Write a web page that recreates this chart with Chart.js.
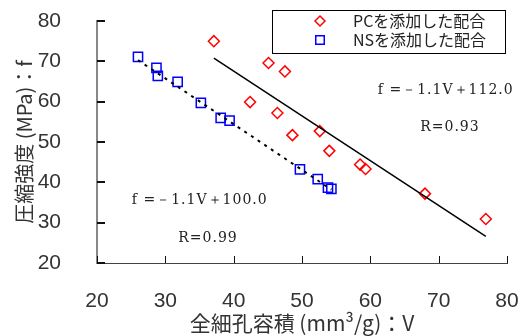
<!DOCTYPE html>
<html>
<head>
<meta charset="utf-8">
<script src="https://cdn.jsdelivr.net/npm/chart.js@4.4.1/dist/chart.umd.min.js"></script>
<style>
  html, body { margin: 0; padding: 0; background: #fff; }
</style>
</head>
<body>
<canvas id="poreChart" width="524" height="336"></canvas>
<script>
// 全細孔容積 V と 圧縮強度 f
var pcV = [37.1, 45.1, 47.5, 42.4, 46.4, 48.6, 52.6, 54.0, 58.5, 59.3, 68.0, 76.9];
var pcF = [75.0, 69.6, 67.5, 59.9, 57.2, 51.7, 52.7, 47.8, 44.4, 43.3, 37.2, 30.9];
var nsV = [26.0, 28.7, 28.9, 31.8, 35.2, 38.1, 39.4, 49.7, 52.3, 53.8, 54.3];
var nsF = [71.1, 68.4, 66.4, 64.9, 59.7, 56.0, 55.3, 43.2, 40.8, 38.7, 38.4];

// 回帰直線の両端
var pcFitV = [37.1, 76.9];
var pcFitF = [70.8, 26.6];
var nsFitV = [26.0, 54.3];
var nsFitF = [70.3, 38.2];

var xTicks = [20, 30, 40, 50, 60, 70, 80];
var yTicks = [20, 30, 40, 50, 60, 70, 80];

var seriesNames = ['PCを添加した配合', 'NSを添加した配合'];

function pts(xs, ys) {
    return xs.map(function(v, i) { return { x: v, y: ys[i] }; });
}

// 注記テキスト [V, f, 文字列]
var notes = [
    [61.1, 62.9, 'f =－1.1V＋112.0'],
    [67.3, 53.7, 'R=0.93'],
    [25.1, 35.6, 'f =－1.1V＋100.0'],
    [31.9, 26.2, 'R=0.99']
];

var extras = {
    id: 'extras',
    afterDraw: function(chart) {
        var ctx = chart.ctx;
        var xs = chart.scales.x, ys = chart.scales.y, a = chart.chartArea;
        ctx.save();

        // 内向きの目盛り
        ctx.strokeStyle = '#111';
        ctx.lineWidth = 1;
        ctx.beginPath();
        xTicks.forEach(function(v) {
            var px = Math.round(xs.getPixelForValue(v)) + 0.5;
            ctx.moveTo(px, a.bottom);
            ctx.lineTo(px, a.bottom - 7);
        });
        ctx.stroke();
        ctx.lineWidth = 2;
        ctx.beginPath();
        yTicks.forEach(function(v) {
            var py = Math.round(ys.getPixelForValue(v));
            ctx.moveTo(a.left, py);
            ctx.lineTo(a.left + 8, py);
        });
        ctx.stroke();

        // 注記
        ctx.fillStyle = '#222';
        ctx.font = '14px "DejaVu Serif"';
        ctx.letterSpacing = '1px';
        ctx.textAlign = 'left';
        ctx.textBaseline = 'middle';
        notes.forEach(function(n) {
            ctx.fillText(n[2], xs.getPixelForValue(n[0]), ys.getPixelForValue(n[1]));
        });
        ctx.letterSpacing = '0px';

        // 凡例
        var lx = 272, ly = 10, lw = 233, lh = 43;
        ctx.strokeStyle = '#000';
        ctx.lineWidth = 1;
        ctx.fillStyle = '#fff';
        ctx.fillRect(lx, ly, lw, lh);
        ctx.strokeRect(lx + 0.5, ly + 0.5, lw, lh);
        ctx.font = '16px "Noto Sans CJK JP"';
        chart.data.datasets.slice(0, 2).forEach(function(ds, i) {
            var cy = ly + 11 + i * 19;
            ctx.fillStyle = 'rgba(255,255,255,0)';
            ctx.strokeStyle = ds.borderColor;
            ctx.lineWidth = ds.borderWidth;
            Chart.helpers.drawPoint(ctx, {
                pointStyle: ds.pointStyle,
                radius: ds.pointRadius - 0.5,
                borderWidth: ds.borderWidth,
                rotation: 0
            }, lx + 48, cy);
            ctx.fillStyle = '#222';
            ctx.fillText(ds.label, lx + 81, cy);
        });
        ctx.restore();
    }
};

var ctx = document.getElementById('poreChart').getContext('2d');
var poreChart = new Chart(ctx, {
    type: 'scatter',
    data: {
        datasets: [{
            label: seriesNames[0],
            data: pts(pcV, pcF),
            pointStyle: 'rectRot',
            pointRadius: 5.5,
            borderColor: '#ff0000',
            backgroundColor: 'rgba(255,255,255,0)',
            borderWidth: 1.5,
            order: 2
        }, {
            label: seriesNames[1],
            data: pts(nsV, nsF),
            pointStyle: 'rect',
            pointRadius: 6.5,
            borderColor: '#0000ff',
            backgroundColor: 'rgba(255,255,255,0)',
            borderWidth: 1.5,
            order: 3
        }, {
            label: 'PC fit',
            data: pts(pcFitV, pcFitF),
            showLine: true,
            pointRadius: 0,
            borderColor: '#000',
            borderWidth: 1.5,
            order: 1
        }, {
            label: 'NS fit',
            data: pts(nsFitV, nsFitF),
            showLine: true,
            pointRadius: 0,
            borderColor: '#000',
            borderWidth: 2,
            borderDash: [3, 5],
            order: 1
        }]
    },
    options: {
        responsive: false,
        animation: false,
        layout: {
            padding: { top: 21, right: 17, bottom: 0, left: 0 }
        },
        plugins: {
            legend: { display: false },
            tooltip: { enabled: false }
        },
        scales: {
            x: {
                type: 'linear',
                min: 20,
                max: 80,
                afterBuildTicks: function(scale) {
                    scale.ticks = xTicks.map(function(v) { return { value: v }; });
                },
                afterFit: function(scale) {
                    scale.height = 73;
                    scale.paddingLeft = 0;
                    scale.paddingRight = 0;
                },
                grid: { display: false },
                border: { display: true, color: '#444', width: 1 },
                ticks: {
                    padding: 18,
                    color: '#333',
                    font: { family: 'Liberation Sans', size: 21 }
                },
                title: {
                    display: true,
                    text: '全細孔容積 (mm³/g)：V',
                    color: '#333',
                    font: { family: 'Noto Sans CJK JP', size: 21 },
                    padding: { top: 0, bottom: 0 }
                }
            },
            y: {
                type: 'linear',
                min: 20,
                max: 80,
                afterBuildTicks: function(scale) {
                    scale.ticks = yTicks.map(function(v) { return { value: v }; });
                },
                afterFit: function(scale) {
                    scale.width = 97;
                    scale.paddingTop = 0;
                    scale.paddingBottom = 0;
                },
                grid: { display: false },
                border: { display: true, color: '#888', width: 2 },
                ticks: {
                    padding: 28,
                    color: '#333',
                    font: { family: 'Liberation Sans', size: 21 }
                },
                title: {
                    display: true,
                    text: '圧縮強度 (MPa)：f',
                    color: '#333',
                    font: { family: 'Noto Sans CJK JP', size: 20 },
                    padding: { top: 12, bottom: 0 }
                }
            }
        }
    },
    plugins: [extras]
});
</script>
</body>
</html>
